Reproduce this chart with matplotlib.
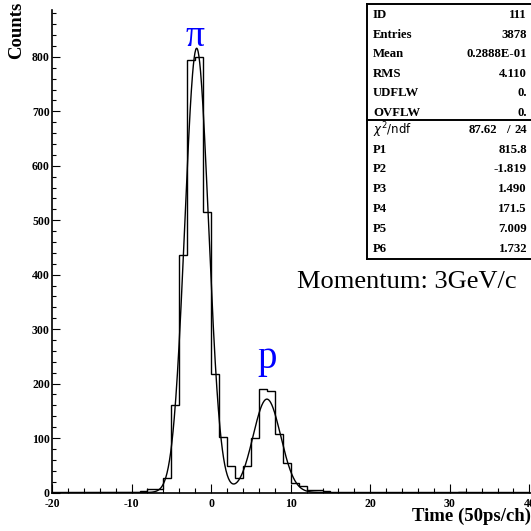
import numpy as np
import matplotlib
matplotlib.use("Agg")
import matplotlib.pyplot as plt
from matplotlib.ticker import MultipleLocator

# ---------------- data ----------------
bin_low = list(range(-9, 15)) + [31]          # lower edges of non-empty 1-unit bins
bin_counts = [2, 6, 6, 27, 160, 437, 794, 800, 515, 217, 101, 49,
              27, 49, 100, 190, 187, 107, 55, 18, 12, 4, 5, 2, 1]

fit_params = [815.8, -1.819, 1.490, 171.5, 7.009, 1.732]   # P1..P6

stats_labels = ["ID", "Entries", "Mean", "RMS", "UDFLW", "OVFLW"]
stats_values = ["111", "3878", "0.2888E-01", "4.110", "0.", "0."]
chi2_value, ndf_value = "87.62", "24"
par_labels = ["P1", "P2", "P3", "P4", "P5", "P6"]
par_values = ["815.8", "-1.819", "1.490", "171.5", "7.009", "1.732"]

x_ticks = [-20, -10, 0, 10, 20, 30, 40]
x_range = (-20, 40.2)
y_range = (0, 886)

# ---------------- figure ----------------
W = H = 531
fig = plt.figure(figsize=(W / 100, H / 100), dpi=100)
serif = "Liberation Serif"

ax = fig.add_axes([52 / W, (H - 492.5) / H, (W - 52) / W, (492.5 - 10) / H])

edges = np.arange(-20, 41, 1)
counts = np.zeros(len(edges) - 1)
for lo, c in zip(bin_low, bin_counts):
    counts[lo + 20] = c
ax.stairs(counts, edges, color="black", linewidth=1.0, baseline=0)

P1, P2, P3, P4, P5, P6 = fit_params
xf = np.linspace(-20, 40, 1200)
yf = P1 * np.exp(-0.5 * ((xf - P2) / P3) ** 2) + P4 * np.exp(-0.5 * ((xf - P5) / P6) ** 2)
ax.plot(xf, yf, color="black", linewidth=1.0)

ax.set_xlim(*x_range)
ax.set_ylim(*y_range)
for s in ["top", "right"]:
    ax.spines[s].set_visible(False)
for s in ["left", "bottom"]:
    ax.spines[s].set_linewidth(1.2)

ax.xaxis.set_minor_locator(MultipleLocator(2))
ax.yaxis.set_major_locator(MultipleLocator(100))
ax.yaxis.set_minor_locator(MultipleLocator(20))
ax.tick_params(which="both", direction="in", top=False, right=False)
ax.tick_params(axis="x", which="major", length=6.5, width=0.8, pad=4)
ax.tick_params(axis="x", which="minor", length=3.5, width=0.8)
ax.tick_params(axis="y", which="major", length=5.5, width=0.8, pad=1.5)
ax.tick_params(axis="y", which="minor", length=3, width=0.8)
ax.set_xticks(x_ticks)
ax.set_xticklabels([str(t) for t in x_ticks],
                   fontfamily=serif, fontweight="bold", fontsize=8.5)
for lab in ax.get_yticklabels():
    lab.set_fontfamily(serif)
    lab.set_fontweight("bold")
    lab.set_fontsize(8.5)

# axis titles
fig.text(1.0, 10 / H, "Time (50ps/ch)", ha="right", va="baseline",
         fontfamily=serif, fontweight="bold", fontsize=13.5)
fig.text(17 / W, 1 - 2 / H, "Counts", rotation=90, ha="center", va="top",
         fontfamily=serif, fontweight="bold", fontsize=13.5)

# annotations
ax.text(-2.0, 806, "π", color="blue", ha="center", va="bottom",
        fontfamily=serif, fontsize=27)
ax.text(7.0, 213, "p", color="blue", ha="center", va="bottom",
        fontfamily=serif, fontsize=28)
fig.text(297 / W, 1 - 288 / H, "Momentum: 3GeV/c", ha="left", va="baseline",
         fontfamily=serif, fontsize=19)

# ---------------- stats box ----------------
bx0, bx1, by0, by1 = 367, 531, 4, 259
sax = fig.add_axes([bx0 / W, 1 - by1 / H, (bx1 - bx0) / W, (by1 - by0) / H])
sax.set_xlim(bx0, bx1)
sax.set_ylim(by1, by0)
sax.axis("off")
sax.patch.set_visible(False)
lw = 1.4
sax.plot([bx0, bx0], [by0, by1], color="black", linewidth=lw, clip_on=False)
sax.plot([bx0, bx1], [by0, by0], color="black", linewidth=lw, clip_on=False)
sax.plot([bx0, bx1], [by1, by1], color="black", linewidth=lw, clip_on=False)
sax.plot([bx0, bx1], [119.5, 119.5], color="black", linewidth=lw, clip_on=False)

fs = 9.2
lx, rx = 373, 527
row_y = [15 + 19.6 * i for i in range(6)]
for yy, lab, val in zip(row_y, stats_labels, stats_values):
    sax.text(lx, yy, lab, ha="left", va="center", fontfamily=serif,
             fontweight="bold", fontsize=fs)
    sax.text(rx, yy, val, ha="right", va="center", fontfamily=serif,
             fontweight="bold", fontsize=fs)

row2_y = [129.7 + 19.9 * i for i in range(7)]
sax.text(lx, row2_y[0], r"$\chi^2$/ndf", ha="left", va="center",
         fontfamily="DejaVu Sans", fontsize=8.5)
sax.text(497, row2_y[0], chi2_value, ha="right", va="center", fontfamily=serif,
         fontweight="bold", fontsize=fs)
sax.text(508, row2_y[0], "/", ha="center", va="center", fontfamily=serif,
         fontweight="bold", fontsize=fs)
sax.text(rx, row2_y[0], ndf_value, ha="right", va="center", fontfamily=serif,
         fontweight="bold", fontsize=fs)
for yy, lab, val in zip(row2_y[1:], par_labels, par_values):
    sax.text(lx, yy, lab, ha="left", va="center", fontfamily=serif,
             fontweight="bold", fontsize=fs)
    sax.text(rx, yy, val, ha="right", va="center", fontfamily=serif,
             fontweight="bold", fontsize=fs)

fig.savefig("out.png", dpi=100)
